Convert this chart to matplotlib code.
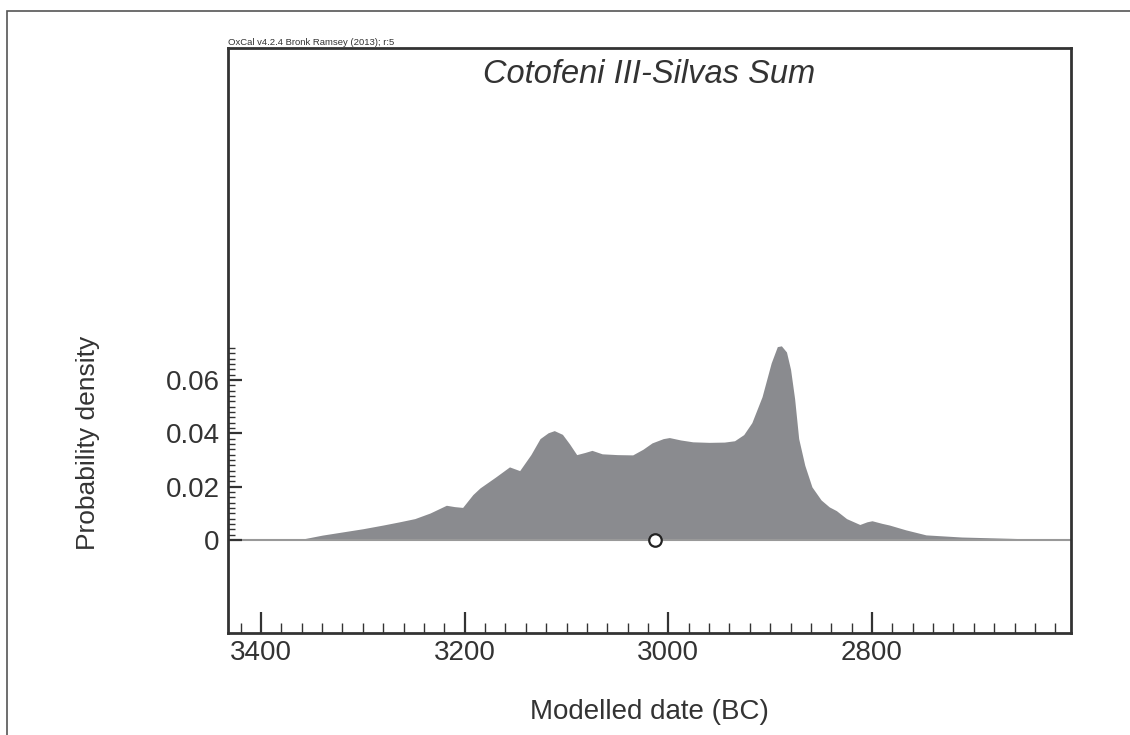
import matplotlib
matplotlib.use("Agg")
import matplotlib.pyplot as plt
from matplotlib.patches import Rectangle
import numpy as np

plt.rcParams['font.family'] = ['Liberation Sans', 'DejaVu Sans']

# summed probability distribution, modelled date (BC) vs density
years = [3364, 3340, 3320, 3300, 3280, 3264, 3249, 3234, 3218, 3210,
         3202, 3192, 3185, 3170, 3156, 3146, 3135, 3126, 3118, 3112,
         3104, 3097, 3090, 3082, 3075, 3065, 3050, 3035, 3025, 3016,
         3005, 2999, 2988, 2976, 2960, 2945, 2935, 2926, 2918, 2908,
         2899, 2893, 2889, 2884, 2880, 2876, 2872, 2866, 2859, 2850,
         2842, 2835, 2825, 2812, 2805, 2800, 2790, 2783, 2767, 2747,
         2712, 2663, 2629, 2615]
density = [0.0, 0.0018, 0.0030, 0.0042, 0.0056, 0.0068, 0.0080, 0.0101, 0.0130, 0.0125,
           0.0122, 0.0170, 0.0195, 0.0235, 0.0274, 0.0260, 0.0320, 0.0380, 0.0402, 0.0410,
           0.0396, 0.0360, 0.0320, 0.0328, 0.0336, 0.0323, 0.0320, 0.0319, 0.0340, 0.0364,
           0.0380, 0.0384, 0.0375, 0.0368, 0.0366, 0.0367, 0.0372, 0.0395, 0.0440, 0.0537,
           0.0664, 0.0725, 0.0728, 0.0705, 0.0640, 0.0530, 0.0380, 0.0280, 0.0199, 0.0150,
           0.0124, 0.0110, 0.0080, 0.0058, 0.0068, 0.0072, 0.0062, 0.0056, 0.0038, 0.0019,
           0.0011, 0.0006, 0.0002, 0.0]
mean_year = 3013

x_major = [3400, 3200, 3000, 2800]
y_major = [0, 0.02, 0.04, 0.06]
y_labels = ["0", "0.02", "0.04", "0.06"]

dark = "#333333"

fig = plt.figure(figsize=(11.3, 7.35), dpi=100)
# outer frame
fig.patches.append(Rectangle((7 / 1130, -0.1), 1.2, 1 - 11 / 735 + 0.1,
                             transform=fig.transFigure, fill=False,
                             edgecolor="#555555", linewidth=1.2))

ax = fig.add_axes([228 / 1130, 1 - 633 / 735, (1071 - 228) / 1130, (633 - 48) / 735])
ax.set_xlim(3432.4, 2604.6)
ax.set_ylim(-0.0349, 0.1845)

ax.fill_between(years, 0, density, color="#8a8b8f", linewidth=0)
ax.axhline(0, color="#999999", linewidth=1.5, zorder=1)
ax.plot([mean_year], [0], "o", markersize=9, markerfacecolor="white",
        markeredgecolor="#222222", markeredgewidth=1.6, zorder=5, clip_on=False)

for s in ax.spines.values():
    s.set_color(dark)
    s.set_linewidth(2)

ax.set_xticks(x_major)
ax.set_xticklabels([str(v) for v in x_major])
ax.set_xticks(np.arange(2620, 3440, 20), minor=True)
ax.set_yticks(y_major)
ax.set_yticklabels(y_labels)
ax.set_yticks(np.arange(0, 0.0725, 0.002), minor=True)

ax.tick_params(axis="x", which="major", direction="in", length=15, width=1.6,
               color=dark, labelsize=20, labelcolor=dark, pad=5, top=False)
ax.tick_params(axis="x", which="minor", direction="in", length=7, width=1,
               color=dark, top=False)
ax.tick_params(axis="y", which="major", direction="in", length=10, width=1.6,
               color=dark, labelsize=20, labelcolor=dark, pad=6, right=False)
ax.tick_params(axis="y", which="minor", direction="in", length=5, width=1,
               color=dark, right=False)

ax.set_xlabel("Modelled date (BC)", fontsize=20, color=dark, labelpad=24)
fig.text(88 / 1130, 1 - 443 / 735, "Probability density", rotation=90,
         ha="center", va="center", fontsize=19, color=dark)

ax.text(0.5, 0.955, "Cotofeni III-Silvas Sum", transform=ax.transAxes,
        ha="center", va="center", fontsize=23.5, style="italic", color=dark)
ax.text(0.0, 1.002, "OxCal v4.2.4 Bronk Ramsey (2013); r:5", transform=ax.transAxes,
        ha="left", va="bottom", fontsize=6.8, color=dark)

fig.savefig("out.png", dpi=100)
